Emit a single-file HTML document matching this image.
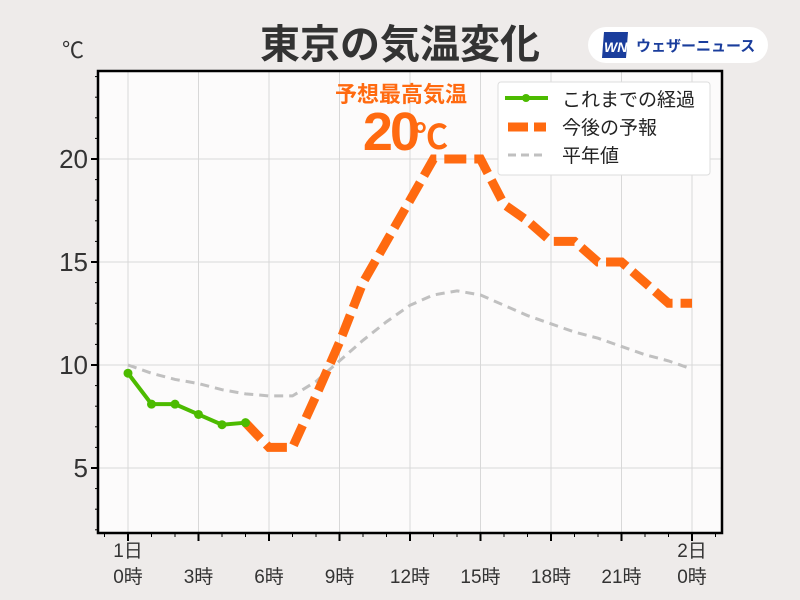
<!DOCTYPE html>
<html><head><meta charset="utf-8"><style>
body{margin:0;background:#eeebea;}
svg{display:block;font-family:"Liberation Sans","Noto Sans CJK JP",sans-serif;}
</style></head><body>
<svg id="c" width="800" height="600" viewBox="0 0 800 600">
<rect width="800" height="600" fill="#eeebea"/>
<text x="400" y="58" text-anchor="middle" font-size="40" font-weight="bold" fill="#333">東京の気温変化</text>
<text x="62" y="58" font-size="22" fill="#333">℃</text>
<g>
<rect x="588" y="27" width="180" height="36" rx="18" fill="#fff"/>
<polygon points="604,32 628,32 626,58 602,58" fill="#1a3d9c"/>
<text x="604" y="52" font-size="14" font-style="italic" font-weight="bold" fill="#fff">WN</text>
<text x="636" y="51" font-size="15" font-weight="bold" fill="#1a3d9c">ウェザーニュース</text>
</g>
<rect x="98" y="71" width="624" height="462" fill="#fcfbfb"/>
<g id="grid"></g>
<g id="series"></g>
<rect x="98" y="71" width="624" height="462" fill="none" stroke="#000" stroke-width="2.5"/>
<g id="axes"></g>
<g>
<text x="401" y="102" text-anchor="middle" font-size="22" font-weight="bold" fill="#ff6a10">予想最高気温</text>
<text x="417" y="150" text-anchor="end" font-size="54" font-weight="bold" fill="#ff6a10" letter-spacing="-3">20</text>
<text x="414" y="149" font-size="34" font-weight="bold" fill="#ff6a10">℃</text>
</g>
<g>
<rect x="498" y="82" width="212" height="93" rx="3" fill="#fff" stroke="#ddd"/>
<g><line x1="505" y1="98" x2="548" y2="98" stroke="#4cbb00" stroke-width="4"/><circle cx="526" cy="98" r="4" fill="#4cbb00"/><text x="562" y="106" font-size="19" fill="#222">これまでの経過</text></g>
<g><line x1="508" y1="127" x2="546" y2="127" stroke="#ff6a10" stroke-width="9" stroke-dasharray="20,6"/><text x="562" y="134" font-size="19" fill="#222">今後の予報</text></g>
<g><line x1="508" y1="155" x2="546" y2="155" stroke="#c0c0c0" stroke-width="3" stroke-dasharray="8,5"/><text x="562" y="162" font-size="19" fill="#222">平年値</text></g>
</g>
</svg>
<script>
const obsHours=[0,1,2,3,4,5];
const obsTemps=[9.6,8.1,8.1,7.6,7.1,7.2];
const fcHours=[5,6,7,8,9,10,11,12,13,14,15,16,17,18,19,20,21,22,23,24];
const fcTemps=[7.2,6,6,8.5,11.1,14,16,18,20,20,20,17.8,17,16,16,15,15,14,13,13];
const normHours=[0,1,2,3,4,5,6,7,8,9,10,11,12,13,14,15,16,17,18,19,20,21,22,23,24];
const normTemps=[10,9.6,9.3,9.1,8.8,8.6,8.5,8.5,9.2,10.2,11.2,12.1,12.9,13.4,13.6,13.4,12.9,12.4,12.0,11.6,11.3,10.9,10.5,10.2,9.8];
const yTicks=[5,10,15,20];
const xTickHours=[0,3,6,9,12,15,18,21,24];
const xTickLabels=["1日\n0時","3時","6時","9時","12時","15時","18時","21時","2日\n0時"];
const NS="http://www.w3.org/2000/svg";
const X=h=>128+h*23.5;
const Y=v=>365-(v-10)*20.6;
function mk(p,t,a){const e=document.createElementNS(NS,t);for(const k in a)e.setAttribute(k,a[k]);p.appendChild(e);return e;}
const grid=document.getElementById('grid'),axes=document.getElementById('axes'),ser=document.getElementById('series');
xTickHours.forEach(h=>{const l=mk(grid,'line',{x1:X(h),x2:X(h),y1:71,y2:533,stroke:'#d8d8d8','stroke-width':1});

});
yTicks.forEach(v=>{const l=mk(grid,'line',{x1:98,x2:722,y1:Y(v),y2:Y(v),stroke:'#d8d8d8','stroke-width':1});

});
for(let v=2;v<=24;v++){const major=v%5===0;mk(axes,'line',{x1:major?91:95,x2:98,y1:Y(v),y2:Y(v),stroke:'#000','stroke-width':major?2:1});}
yTicks.forEach(v=>{const t=mk(axes,'text',{x:88,y:Y(v)+9,'text-anchor':'end','font-size':26,fill:'#333'});t.textContent=v;

});
for(let h=-1;h<=25;h++){const major=h%3===0;mk(axes,'line',{x1:X(h),x2:X(h),y1:533,y2:major?541:537,stroke:'#000','stroke-width':major?2:1});}
xTickHours.forEach((h,i)=>{const lines=xTickLabels[i].split('\n');const t=mk(axes,'text',{x:X(h),'text-anchor':'middle','font-size':19,fill:'#333'});


lines.forEach((s,j)=>{const sp=mk(t,'tspan',{x:X(h),y:(lines.length===2?557:0)+ (lines.length===2?j*26:583)});sp.textContent=s;});});
const pts=(hs,vs)=>hs.map((h,i)=>X(h)+','+Y(vs[i])).join(' ');
const n=mk(ser,'polyline',{points:pts(normHours,normTemps),fill:'none',stroke:'#c0c0c0','stroke-width':3,'stroke-dasharray':'9,6'});


const f=mk(ser,'polyline',{points:pts(fcHours,fcTemps),fill:'none',stroke:'#ff6a10','stroke-width':9,'stroke-dasharray':'22,8','stroke-linejoin':'miter'});


const o=mk(ser,'polyline',{points:pts(obsHours,obsTemps),fill:'none',stroke:'#4cbb00','stroke-width':4});


obsHours.forEach((h,i)=>{const c=mk(ser,'circle',{cx:X(h),cy:Y(obsTemps[i]),r:4.5,fill:'#4cbb00'});

});
</script>
</body></html>
